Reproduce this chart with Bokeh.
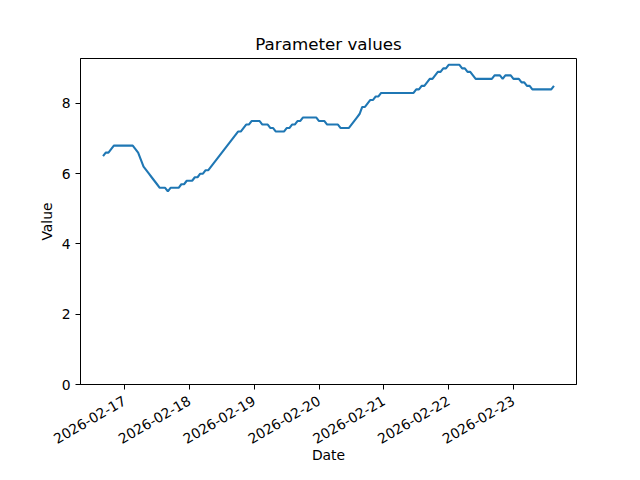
import math
import pandas as pd
from bokeh.plotting import figure
from bokeh.models import Range1d, FixedTicker, DatetimeTickFormatter
from bokeh.embed import file_html
from bokeh.resources import INLINE

# ---- data (hourly readings) ----
start_time = "2026-02-16 16:00"
values_day0 = [6.5, 6.6, 6.6, 6.7, 6.8, 6.8, 6.8, 6.8]
values_day1 = [6.8, 6.8, 6.8, 6.8, 6.7, 6.6, 6.4, 6.2, 6.1, 6.0, 5.9, 5.8,
               5.7, 5.6, 5.6, 5.6, 5.5, 5.6, 5.6, 5.6, 5.6, 5.7, 5.7, 5.8]
values_day2 = [5.8, 5.8, 5.9, 5.9, 6.0, 6.0, 6.1, 6.1, 6.2, 6.3, 6.4, 6.5,
               6.6, 6.7, 6.8, 6.9, 7.0, 7.1, 7.2, 7.2, 7.3, 7.4, 7.4, 7.5]
values_day3 = [7.5, 7.5, 7.5, 7.4, 7.4, 7.4, 7.3, 7.3, 7.2, 7.2, 7.2, 7.2,
               7.3, 7.3, 7.4, 7.4, 7.5, 7.5, 7.6, 7.6, 7.6, 7.6, 7.6, 7.6]
values_day4 = [7.5, 7.5, 7.5, 7.4, 7.4, 7.4, 7.4, 7.4, 7.3, 7.3, 7.3, 7.3,
               7.4, 7.5, 7.6, 7.7, 7.9, 7.9, 8.0, 8.1, 8.1, 8.2, 8.2, 8.3]
values_day5 = [8.3, 8.3, 8.3, 8.3, 8.3, 8.3, 8.3, 8.3, 8.3, 8.3, 8.3, 8.3,
               8.4, 8.4, 8.5, 8.5, 8.6, 8.7, 8.7, 8.8, 8.9, 8.9, 9.0, 9.0]
values_day6 = [9.1, 9.1, 9.1, 9.1, 9.1, 9.0, 9.0, 8.9, 8.9, 8.8, 8.7, 8.7,
               8.7, 8.7, 8.7, 8.7, 8.7, 8.8, 8.8, 8.8, 8.7, 8.8, 8.8, 8.8]
values_day7 = [8.7, 8.7, 8.7, 8.6, 8.6, 8.5, 8.5, 8.4, 8.4, 8.4, 8.4, 8.4,
               8.4, 8.4, 8.4, 8.5]
tick_dates = ["2026-02-17", "2026-02-18", "2026-02-19", "2026-02-20",
              "2026-02-21", "2026-02-22", "2026-02-23"]
y_ticks = [0, 2, 4, 6, 8]

values = (values_day0 + values_day1 + values_day2 + values_day3 +
          values_day4 + values_day5 + values_day6 + values_day7)
times = pd.date_range(start_time, periods=len(values), freq="h")

t0 = times[0].value / 1e6
t1 = times[-1].value / 1e6
span = t1 - t0
ymax = max(values) + 0.05 * (max(values) - min(values))

p = figure(width=624, height=464, x_axis_type="datetime",
           output_backend="svg", toolbar_location=None,
           x_range=Range1d(t0 - 0.05 * span, t1 + 0.05 * span),
           y_range=Range1d(0, ymax),
           title="Parameter values",
           min_border_left=80, min_border_right=48,
           min_border_top=58, min_border_bottom=80)
p.frame_width = 496
p.frame_height = 326

p.line(times, values, line_color="#1f77b4", line_width=2.1)

p.xgrid.visible = False
p.ygrid.visible = False
p.outline_line_color = "black"
p.outline_line_width = 1
p.outline_line_alpha = 1

FONT = "DejaVu Sans"
p.title.text_font = FONT
p.title.text_font_size = "16.7px"
p.title.text_font_style = "normal"
p.title.align = "center"
p.title.text_color = "black"

p.xaxis.ticker = FixedTicker(ticks=[pd.Timestamp(d).value / 1e6 for d in tick_dates])
p.xaxis.formatter = DatetimeTickFormatter(
    milliseconds="%Y-%m-%d", seconds="%Y-%m-%d", minsec="%Y-%m-%d",
    minutes="%Y-%m-%d", hourmin="%Y-%m-%d", hours="%Y-%m-%d",
    days="%Y-%m-%d", months="%Y-%m-%d", years="%Y-%m-%d")
p.xaxis.major_label_orientation = math.pi / 6
p.yaxis.ticker = FixedTicker(ticks=y_ticks)
p.xaxis.axis_label = "Date"
p.yaxis.axis_label = "Value"

for ax in (p.xaxis, p.yaxis):
    ax.axis_line_color = "black"
    ax.major_tick_line_color = "black"
    ax.minor_tick_line_color = None
    ax.major_tick_in = 0
    ax.major_tick_out = 5
    ax.major_label_text_font = FONT
    ax.major_label_text_font_size = "13.9px"
    ax.major_label_text_color = "black"
    ax.axis_label_text_font = FONT
    ax.axis_label_text_font_size = "13.9px"
    ax.axis_label_text_font_style = "normal"
    ax.axis_label_text_color = "black"

p.yaxis.major_label_standoff = 5
p.xaxis.major_label_standoff = 10
p.yaxis.axis_label_standoff = 4
p.xaxis.axis_label_standoff = -5

open("out.html", "w").write(file_html(p, INLINE))
